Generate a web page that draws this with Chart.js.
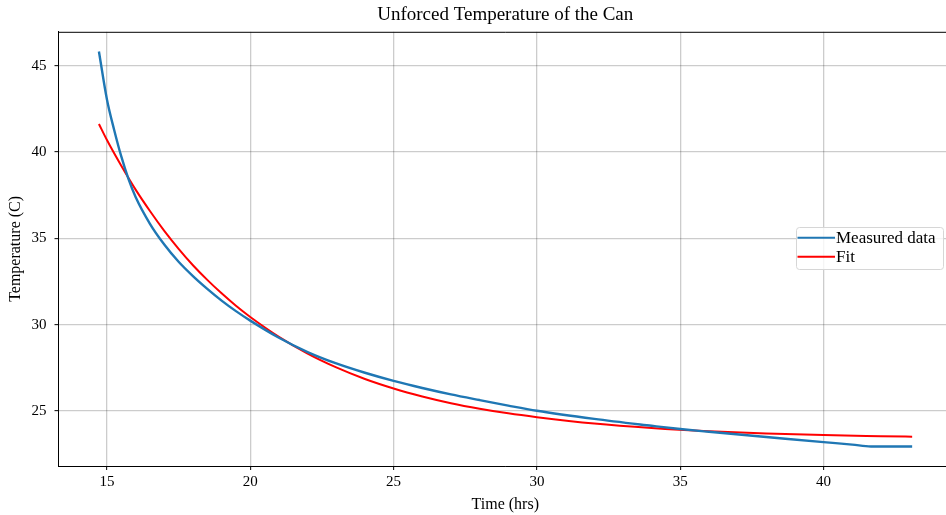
<!DOCTYPE html>
<html>
<head>
<meta charset="utf-8">
<script src="https://cdn.jsdelivr.net/npm/chart.js@4.4.1/dist/chart.umd.min.js"></script>
<style>
  html, body { margin: 0; padding: 0; background: #fff; overflow: hidden; }
  #wrap { width: 1010px; height: 515px; }
</style>
</head>
<body>
<div id="wrap"><canvas id="tempChart" width="1010" height="515"></canvas></div>
<script>
// measured temperature of the can (hours, deg C)
var measuredTime = [14.72, 15.0, 15.25, 15.5, 15.75, 16.0, 16.5, 17.0, 17.5, 18.0, 18.5, 19.0, 19.5, 20.0, 21, 22, 23, 24, 25, 26, 27, 28, 29, 30, 32, 34, 35, 36, 38, 40, 41, 41.65, 43.09];
var measuredTemp = [45.83, 43.05, 41.3, 39.75, 38.45, 37.4, 35.85, 34.65, 33.65, 32.82, 32.08, 31.4, 30.79, 30.24, 29.25, 28.42, 27.76, 27.22, 26.75, 26.34, 25.97, 25.64, 25.32, 25.02, 24.55, 24.15, 23.96, 23.8, 23.5, 23.2, 23.06, 22.95, 22.95];

// fitted curve
var fitTime = [14.72, 15.0, 15.5, 16.0, 16.5, 17.0, 17.5, 18.0, 18.5, 19.0, 19.5, 20.0, 21, 22, 23, 24, 25, 26, 27, 28, 29, 30, 32, 34, 36, 38, 40, 42, 43.09];
var fitTemp = [41.63, 40.7, 39.21, 37.83, 36.59, 35.44, 34.4, 33.45, 32.6, 31.82, 31.1, 30.45, 29.3, 28.33, 27.53, 26.86, 26.31, 25.85, 25.46, 25.14, 24.87, 24.65, 24.28, 24.02, 23.83, 23.7, 23.61, 23.55, 23.52];

var xTicks = [15, 20, 25, 30, 35, 40];
var yTicks = [25, 30, 35, 40, 45];

function toPoints(xs, ys) {
    var pts = [];
    for (let i = 0; i < xs.length; i++) {
        pts.push({x: xs[i], y: ys[i]});
    }
    return pts;
}

var serif = "'Liberation Serif', 'DejaVu Serif', serif";

// top spine + legend box like matplotlib
const frameAndLegend = {
    id: 'frameAndLegend',
    afterDraw(chart) {
        var ctx = chart.ctx;
        var area = chart.chartArea;
        ctx.save();
        ctx.strokeStyle = '#000';
        ctx.lineWidth = 1;
        ctx.beginPath();
        ctx.moveTo(area.left, area.top + 0.5);
        ctx.lineTo(area.right, area.top + 0.5);
        ctx.stroke();

        // legend
        var bx = 796, by = 227.5, bw = 147, bh = 42;
        ctx.fillStyle = 'rgba(255,255,255,0.8)';
        ctx.strokeStyle = '#d6d6d6';
        ctx.beginPath();
        ctx.roundRect(bx + 0.5, by, bw, bh, 3);
        ctx.fill();
        ctx.stroke();

        var rows = [237.7, 256.7];
        ctx.font = '17px ' + serif;
        ctx.textBaseline = 'middle';
        chart.data.datasets.forEach(function(ds, i) {
            ctx.strokeStyle = ds.borderColor;
            ctx.lineWidth = 2;
            ctx.beginPath();
            ctx.moveTo(797.5, rows[i]);
            ctx.lineTo(835, rows[i]);
            ctx.stroke();
            ctx.fillStyle = '#000';
            ctx.fillText(ds.label, 836, rows[i] + 0.5);
        });
        ctx.restore();
    }
};

var gridColor = 'rgba(0,0,0,0.2)';

new Chart(document.getElementById('tempChart'), {
    type: 'line',
    data: {
        datasets: [{
            label: 'Measured data',
            data: toPoints(measuredTime, measuredTemp),
            borderColor: '#1f77b4',
            borderWidth: 2.4,
            pointRadius: 0,
            cubicInterpolationMode: 'monotone',
            fill: false
        }, {
            label: 'Fit',
            data: toPoints(fitTime, fitTemp),
            borderColor: '#ff0000',
            borderWidth: 2,
            pointRadius: 0,
            cubicInterpolationMode: 'monotone',
            fill: false
        }]
    },
    options: {
        responsive: false,
        animation: false,
        layout: {
            padding: {left: 0, right: 58, top: 0, bottom: 0}
        },
        plugins: {
            legend: { display: false },
            tooltip: { enabled: false },
            title: {
                display: true,
                text: 'Unforced Temperature of the Can',
                fullSize: false,
                color: '#000',
                font: { family: serif, size: 19, weight: 'normal' },
                padding: { top: 4, bottom: 5 }
            }
        },
        scales: {
            x: {
                type: 'linear',
                min: 13.31,
                max: 44.48,
                afterFit: function(scale) { scale.height = 49; },
                afterBuildTicks: function(scale) {
                    scale.ticks = xTicks.map(function(v) { return {value: v}; });
                },
                ticks: {
                    color: '#000',
                    padding: 3,
                    maxRotation: 0,
                    font: { family: serif, size: 15 }
                },
                grid: {
                    color: gridColor,
                    lineWidth: 1.3,
                    tickColor: '#000',
                    tickLength: 4,
                    tickWidth: 1
                },
                border: { color: '#000', width: 1 },
                title: {
                    display: true,
                    text: 'Time (hrs)',
                    color: '#000',
                    font: { family: serif, size: 16 },
                    padding: { top: 0, bottom: 1 }
                }
            },
            y: {
                min: 21.82,
                max: 46.97,
                afterFit: function(scale) { scale.width = 58.5; },
                afterBuildTicks: function(scale) {
                    scale.ticks = yTicks.map(function(v) { return {value: v}; });
                },
                ticks: {
                    color: '#000',
                    padding: 8,
                    font: { family: serif, size: 15 }
                },
                grid: {
                    color: gridColor,
                    lineWidth: 1.3,
                    tickColor: '#000',
                    tickLength: 4,
                    tickWidth: 1
                },
                border: { color: '#000', width: 1 },
                title: {
                    display: true,
                    text: 'Temperature (C)',
                    color: '#000',
                    font: { family: serif, size: 16 },
                    padding: { top: 6, bottom: 0 }
                }
            }
        }
    },
    plugins: [frameAndLegend]
});
</script>
</body>
</html>
